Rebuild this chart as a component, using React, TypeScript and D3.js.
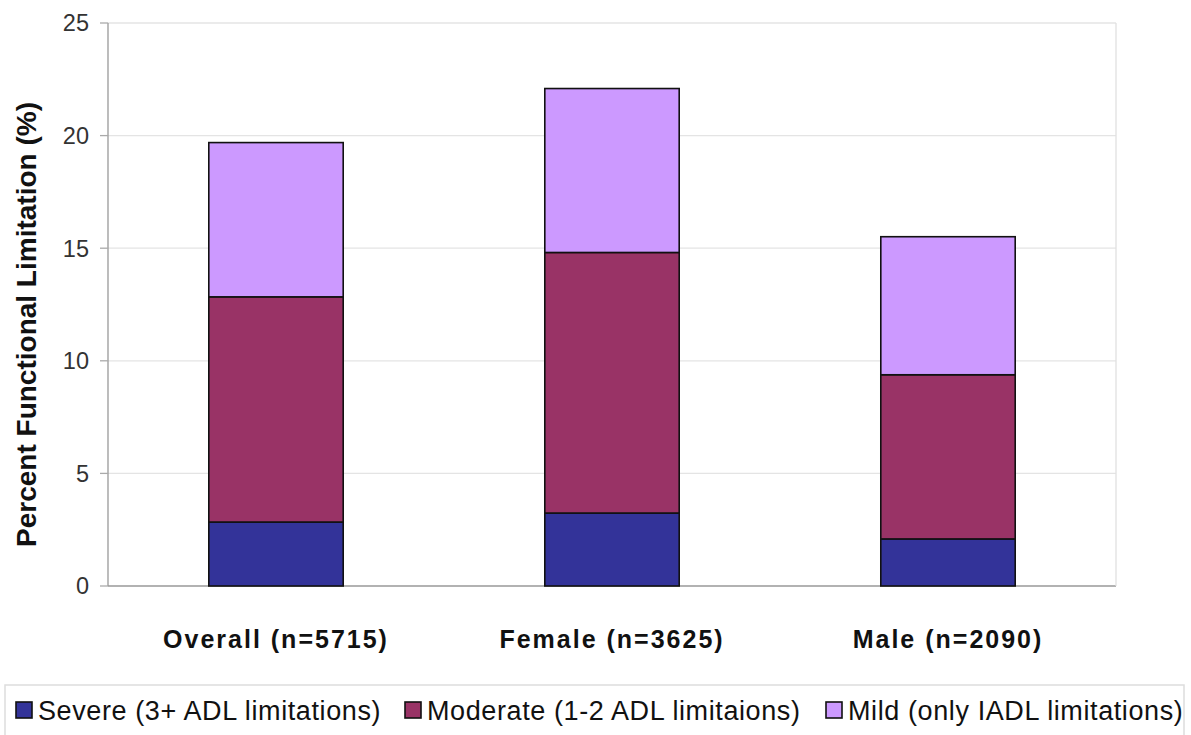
import React from "react";
import * as d3 from "d3";

const categories = ["Overall (n=5715)", "Female (n=3625)", "Male (n=2090)"];
const seriesNames = [
  "Severe (3+ ADL limitations)",
  "Moderate (1-2 ADL limitaions)",
  "Mild (only IADL limitations)",
];
const severe = [2.84, 3.24, 2.09];
const moderate = [10.0, 11.57, 7.29];
const mild = [6.85, 7.28, 6.13];
const seriesColors = ["#333399", "#993366", "#CC99FF"];
const yTicks = [0, 5, 10, 15, 20, 25];

const W = 1191;
const H = 735;
const M = { left: 108, right: 1116, top: 23, bottom: 586 };

export default function App() {
  const x = d3
    .scaleBand<string>()
    .domain(categories)
    .range([M.left, M.right])
    .paddingInner(0.6)
    .paddingOuter(0.3);
  const y = d3.scaleLinear().domain([0, 25]).range([M.bottom, M.top]);

  const rows = categories.map((c, i) => ({
    cat: c,
    s0: severe[i],
    s1: moderate[i],
    s2: mild[i],
  }));
  const stack = d3.stack<any>().keys(["s0", "s1", "s2"])(rows);

  const font = "'Liberation Sans', Arial, sans-serif";

  const legendStarts = [16, 405, 826];

  return (
    <svg
      width={W}
      height={H}
      style={{ position: "absolute", left: 0, top: 0, background: "#fff" }}
      fontFamily={font}
    >
      {/* gridlines */}
      {yTicks.map((t) => (
        <line
          key={"g" + t}
          x1={M.left}
          x2={M.right}
          y1={y(t)}
          y2={y(t)}
          stroke={t === 0 ? "#999" : "#e4e4e4"}
          strokeWidth={1.3}
        />
      ))}
      <line x1={M.right} x2={M.right} y1={M.top} y2={M.bottom} stroke="#e0e0e0" strokeWidth={1.3} />
      <line x1={M.left} x2={M.left} y1={M.top} y2={M.bottom} stroke="#999" strokeWidth={1.3} />
      {yTicks.map((t) => (
        <g key={"t" + t}>
          <line x1={M.left - 8} x2={M.left} y1={y(t)} y2={y(t)} stroke="#aaa" strokeWidth={1.3} />
          <text x={89} y={y(t)} dy="0.36em" textAnchor="end" fontSize={23.5} fill="#333">
            {t}
          </text>
        </g>
      ))}

      {/* bars */}
      {stack.map((layer, li) =>
        layer.map((d: any, i: number) => (
          <rect
            key={li + "-" + i}
            x={x(d.data.cat)}
            width={x.bandwidth()}
            y={y(d[1])}
            height={y(d[0]) - y(d[1])}
            fill={seriesColors[li]}
            stroke="#111"
            strokeWidth={1.6}
          />
        ))
      )}

      {/* category labels */}
      {categories.map((c) => (
        <text
          key={c}
          x={(x(c) as number) + x.bandwidth() / 2}
          y={648}
          textAnchor="middle"
          fontSize={25}
          fontWeight="bold"
          letterSpacing={2}
          fill="#111"
        >
          {c}
        </text>
      ))}

      {/* y axis title */}
      <text
        transform={`translate(36, ${(M.top + M.bottom) / 2 + 20}) rotate(-90)`}
        textAnchor="middle"
        fontSize={28}
        fontWeight="bold"
        fill="#111"
      >
        Percent Functional Limitation (%)
      </text>

      {/* legend */}
      <rect x={5} y={685} width={1179} height={52} fill="#fff" stroke="#ddd" strokeWidth={1.5} />
      {seriesNames.map((n, i) => (
        <g key={n}>
          <rect
            x={legendStarts[i]}
            y={702}
            width={16}
            height={16}
            fill={seriesColors[i]}
            stroke="#111"
            strokeWidth={1.6}
          />
          <text x={legendStarts[i] + 22} y={720} fontSize={27} letterSpacing={0.6} fill="#111">
            {n}
          </text>
        </g>
      ))}
    </svg>
  );
}
